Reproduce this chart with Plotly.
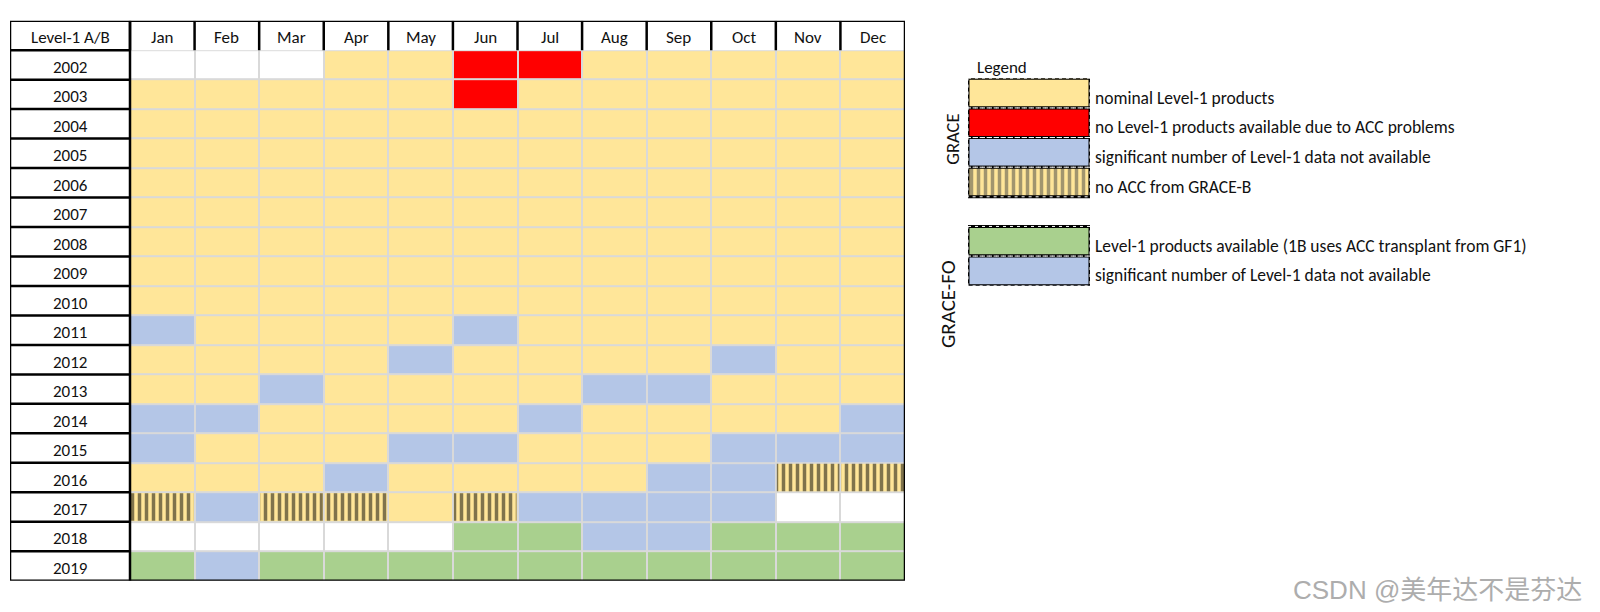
import plotly.graph_objects as go

# ---------------- data ----------------
months = ["Jan", "Feb", "Mar", "Apr", "May", "Jun", "Jul", "Aug", "Sep", "Oct", "Nov", "Dec"]
years = [2002, 2003, 2004, 2005, 2006, 2007, 2008, 2009, 2010,
         2011, 2012, 2013, 2014, 2015, 2016, 2017, 2018, 2019]
header_label = "Level-1 A/B"
# W = no data yet, Y = nominal, R = no products (ACC problems),
# B = significant data missing, H = no ACC from GRACE-B, G = GRACE-FO available
status_rows = [
    "WWWYYRRYYYYY",  # 2002
    "YYYYYRYYYYYY",  # 2003
    "YYYYYYYYYYYY",  # 2004
    "YYYYYYYYYYYY",  # 2005
    "YYYYYYYYYYYY",  # 2006
    "YYYYYYYYYYYY",  # 2007
    "YYYYYYYYYYYY",  # 2008
    "YYYYYYYYYYYY",  # 2009
    "YYYYYYYYYYYY",  # 2010
    "BYYYYBYYYYYY",  # 2011
    "YYYYBYYYYBYY",  # 2012
    "YYBYYYYBBYYY",  # 2013
    "BBYYYYBYYYYB",  # 2014
    "BYYYBBYYYBBB",  # 2015
    "YYYBYYYYBBHH",  # 2016
    "HBHHYHBBBBWW",  # 2017
    "WWWWWGGBBGGG",  # 2018
    "GBGGGGGGGGGG",  # 2019
]
codes = ["W", "Y", "R", "B", "H", "G"]
code_colors = ["#FFFFFF", "#FFE699", "#FF0000", "#B4C6E7", "#FFE699", "#A9D08E"]

legend_title = "Legend"
legend_groups = ["GRACE", "GRACE-FO"]
legend_codes = ["Y", "R", "B", "H", "G", "B"]
legend_rows = [0, 1, 2, 3, 5, 6]
legend_texts = [
    "nominal Level-1 products",
    "no Level-1 products available due to ACC problems",
    "significant number of Level-1 data not available",
    "no ACC from GRACE-B",
    "Level-1 products available (1B uses ACC transplant from GF1)",
    "significant number of Level-1 data not available",
]
watermark = "CSDN @美年达不是芬达"

# ---------------- layout geometry ----------------
OFF = 8  # page body margin
W, H = 1600 - OFF, 612 - OFF
FONT = "Carlito, Lato, sans-serif"
GRID = "#D9D9D9"
YELLOW = code_colors[1]


def px(v):
    return v - OFF


tbl_left, tbl_right, tbl_top, tbl_bottom = px(10), px(905), px(20.7), px(580.7)
label_px = 120
month_px = (tbl_right - tbl_left - label_px) / len(months)
L = label_px / month_px
row_px = (tbl_bottom - tbl_top) / (len(years) + 1)
gx = 2 / month_px
gy = 2 / row_px

x_lo, x_hi = -0.5 - L, len(months) - 0.5
y_top, y_bot = -1.5, len(years) - 0.5
label_cx = (x_lo - 0.5) / 2

z = [[codes.index(c) for c in row] for row in status_rows]
n = len(codes)
colorscale = []
for k, c in enumerate(code_colors):
    colorscale.append([k / n, c])
    colorscale.append([(k + 1) / n, c])

fig = go.Figure()

fig.add_trace(go.Heatmap(
    z=z, x=list(range(len(months))), y=list(range(len(years))),
    colorscale=colorscale, zmin=-0.5, zmax=n - 0.5, showscale=False,
    xgap=2, ygap=2, hoverinfo="skip",
    xaxis="x", yaxis="y",
))

# hatched cells (no ACC from GRACE-B)
hx, hb = [], []
for i, row in enumerate(status_rows):
    for j, c in enumerate(row):
        if c == "H":
            hx.append(j)
            hb.append(i - 0.5 + gy / 2)
hatch = dict(shape="|", size=7, solidity=0.5, fgcolor="#000000", fillmode="overlay")
fig.add_trace(go.Bar(
    x=hx, y=[1 - gy] * len(hx), base=hb, width=1 - gx,
    marker=dict(color=YELLOW, line=dict(width=0), pattern=hatch),
    hoverinfo="skip", showlegend=False, xaxis="x", yaxis="y",
))

# legend swatches
leg_colors = [code_colors[codes.index(c)] for c in legend_codes]
leg_shapes = ["|" if c == "H" else "" for c in legend_codes]
fig.add_trace(go.Bar(
    x=[1] * len(legend_rows), y=legend_rows, base=0, width=1, orientation="h",
    marker=dict(color=leg_colors, line=dict(width=3, color="#000000"),
                pattern=dict(hatch, shape=leg_shapes)),
    hoverinfo="skip", showlegend=False, xaxis="x2", yaxis="y2",
))

shapes = []
# gray grid background under the month cells
shapes.append(dict(type="rect", xref="x", yref="y", x0=-0.5, x1=x_hi, y0=-0.5, y1=y_bot,
                   fillcolor=GRID, line=dict(width=0), layer="below"))
blk = dict(color="#000000", width=2.5)
for i in range(len(years)):
    shapes.append(dict(type="line", xref="x", yref="y", x0=x_lo, x1=-0.5,
                       y0=i - 0.5, y1=i - 0.5, line=blk))
for j in range(len(months)):
    shapes.append(dict(type="line", xref="x", yref="y", x0=j - 0.5, x1=j - 0.5,
                       y0=y_top, y1=-0.5, line=blk))
shapes.append(dict(type="line", xref="x", yref="y", x0=-0.5, x1=-0.5,
                   y0=y_top, y1=y_bot, line=blk))
shapes.append(dict(type="rect", xref="x", yref="y", x0=x_lo, x1=x_hi, y0=y_top, y1=y_bot,
                   line=dict(color="#000000", width=2.5), fillcolor="rgba(0,0,0,0)"))
# dashed white accents on legend swatch borders
for r in legend_rows:
    shapes.append(dict(type="rect", xref="x2", yref="y2", x0=0, x1=1, y0=r - 0.5, y1=r + 0.5,
                       line=dict(color="white", width=1, dash="3px,4px"),
                       fillcolor="rgba(0,0,0,0)"))

ann = []
txt = dict(family=FONT, size=17, color="#111111")
ann.append(dict(x=label_cx, y=-1, xref="x", yref="y", text=header_label, yshift=-2.5,
                xanchor="center", yanchor="middle", showarrow=False, font=txt))
for j, m in enumerate(months):
    ann.append(dict(x=j, y=-1, xref="x", yref="y", text=m, xanchor="center", yshift=-2.5,
                    yanchor="middle", showarrow=False, font=txt))
for i, yr in enumerate(years):
    ann.append(dict(x=label_cx, y=i, xref="x", yref="y", text=str(yr), xanchor="center",
                    yshift=-2.5, yanchor="middle", showarrow=False, font=txt))
ltxt = dict(family=FONT, size=17.5, color="#111111")
for r, t in zip(legend_rows, legend_texts):
    ann.append(dict(x=1, y=r, xref="x2", yref="y2", text=t, xanchor="left", yanchor="middle",
                    xshift=3, yshift=-4.5, showarrow=False, font=ltxt))
ann.append(dict(x=px(975) / W, y=1 - px(67.7) / H, xref="paper", yref="paper", text=legend_title,
                xanchor="left", yanchor="middle", showarrow=False,
                font=dict(family=FONT, size=17, color="#111111")))
ann.append(dict(x=px(951.7) / W, y=1 - px(139) / H, xref="paper", yref="paper",
                text=legend_groups[0], textangle=-90, xanchor="center", yanchor="middle",
                showarrow=False, font=dict(family=FONT, size=18.5, color="#111111")))
ann.append(dict(x=px(948) / W, y=1 - px(304) / H, xref="paper", yref="paper",
                text=legend_groups[1], textangle=-90, xanchor="center", yanchor="middle",
                showarrow=False, font=dict(family=FONT, size=21, color="#111111")))
ann.append(dict(x=px(1584) / W, y=1 - px(590) / H, xref="paper", yref="paper", text=watermark,
                xanchor="right", yanchor="middle", showarrow=False,
                font=dict(family="Liberation Sans, Noto Sans CJK SC", size=26, color="#ADADAD")))

ax_off = dict(showgrid=False, zeroline=False, showticklabels=False, ticks="", showline=False,
              fixedrange=True)
fig.update_layout(
    width=W, height=H, margin=dict(l=0, r=0, t=0, b=0, pad=0),
    paper_bgcolor="white", plot_bgcolor="white", barmode="overlay", showlegend=False,
    xaxis=dict(domain=[tbl_left / W, tbl_right / W], range=[x_lo, x_hi], **ax_off),
    yaxis=dict(domain=[1 - tbl_bottom / H, 1 - tbl_top / H], range=[y_bot, y_top], **ax_off),
    xaxis2=dict(domain=[px(968) / W, px(1090) / W], range=[0, 1], anchor="y2", **ax_off),
    yaxis2=dict(domain=[1 - px(285.7) / H, 1 - px(78.3) / H], range=[6.5, -0.5], anchor="x2",
                **ax_off),
    shapes=shapes, annotations=ann,
)
fig.write_html("out.html")
